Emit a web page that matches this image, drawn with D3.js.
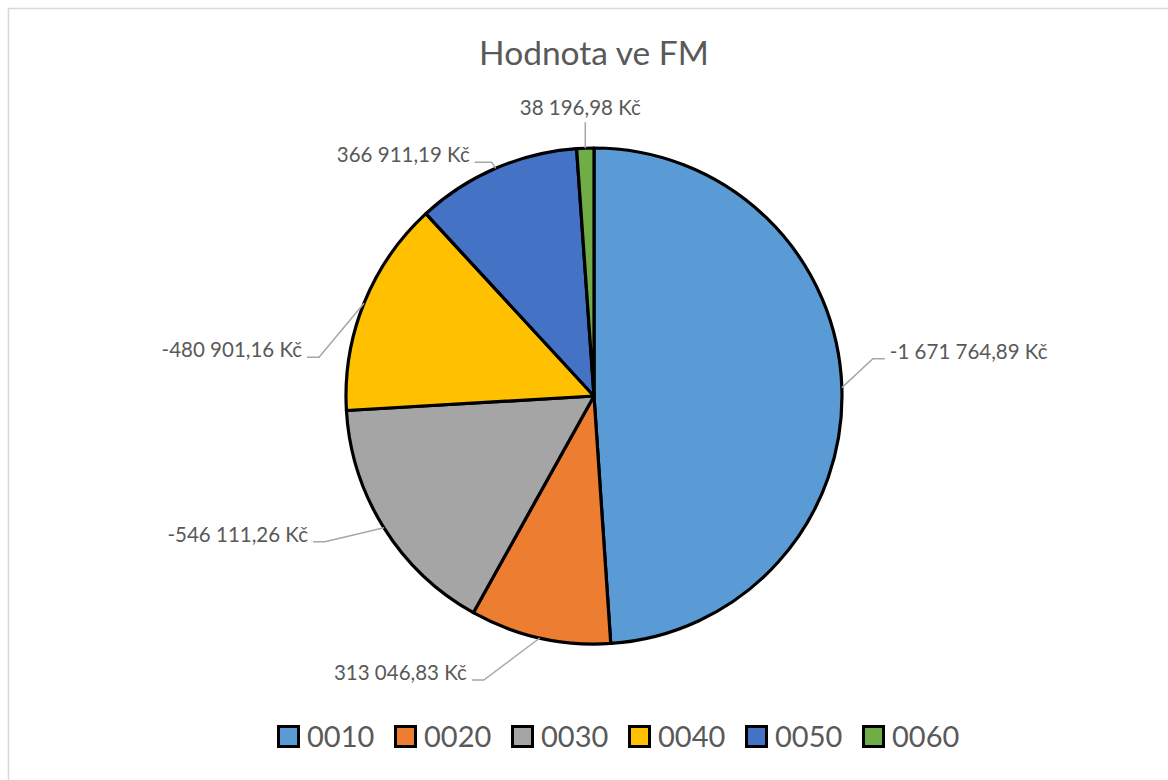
<!DOCTYPE html>
<html>
<head>
<meta charset="utf-8">
<script src="https://cdn.jsdelivr.net/npm/d3@7"></script>
<style>
  html, body { margin: 0; padding: 0; background: #fff; }
  svg { display: block; }
</style>
</head>
<body>
<svg id="chart" width="1168" height="780"></svg>
<script>
// ---- data ----
const categories = ["0010", "0020", "0030", "0040", "0050", "0060"];
const values = [-1671764.89, 313046.83, -546111.26, -480901.16, 366911.19, 38196.98];
const colors = ["#5B9BD5", "#ED7D31", "#A5A5A5", "#FFC000", "#4472C4", "#70AD47"];
const title = "Hodnota ve FM";

// ---- layout (label leader geometry relative to slice anchor) ----
const labelLayout = [
  { dx: 43, dy: -29, elbow: 12, side: "right" },
  { dx: -68, dy: 42, elbow: 12, side: "left" },
  { dx: -71, dy: 14, elbow: 12, side: "left" },
  { dx: -57, dy: 54, elbow: 12, side: "left" },
  { dx: -21, dy: -6, elbow: 17, side: "left" },
  { dx: 0, dy: -26, elbow: 0, side: "top" }
];

const svg = d3.select("#chart");
const cx = 594, cy = 396, R = 248;
const textColor = "#595959";
const font = "Lato, 'Open Sans', sans-serif";

// chart border
svg.append("rect")
  .attr("x", 8.5).attr("y", 8.5)
  .attr("width", 1200).attr("height", 800)
  .attr("fill", "#fff")
  .attr("stroke", "#d9d9d9").attr("stroke-width", 1.5);

// title
svg.append("text")
  .attr("x", cx).attr("y", 65)
  .attr("text-anchor", "middle")
  .attr("font-family", font)
  .attr("font-size", 33.5)
  .attr("fill", textColor)
  .text(title);

const data = categories.map((c, i) => ({ cat: c, value: values[i], color: colors[i], layout: labelLayout[i] }));

const pie = d3.pie().sort(null).value(d => Math.abs(d.value));
const arcs = pie(data);
const arc = d3.arc().innerRadius(0).outerRadius(R);

const g = svg.append("g").attr("transform", `translate(${cx},${cy})`);

g.selectAll("path.slice")
  .data(arcs)
  .join("path")
  .attr("class", "slice")
  .attr("d", arc)
  .attr("fill", d => d.data.color)
  .attr("stroke", "#000")
  .attr("stroke-width", 3.2)
  .attr("stroke-linejoin", "round");

const fmt = v => {
  const s = Math.abs(v).toFixed(2).split(".");
  const intPart = s[0].replace(/\B(?=(\d{3})+(?!\d))/g, " ");
  return (v < 0 ? "-" : "") + intPart + "," + s[1] + " Kč";
};

// labels with leader lines
arcs.forEach(a => {
  const mid = (a.startAngle + a.endAngle) / 2;
  const ax = Math.sin(mid) * R;
  const ay = -Math.cos(mid) * R;
  const L = a.data.layout;
  const ex = ax + L.dx, ey = ay + L.dy;
  let pts, tx, ty, anchor;
  if (L.side === "right") {
    pts = [[ax, ay], [ex - L.elbow, ey], [ex, ey]];
    tx = ex + 5; ty = ey; anchor = "start";
  } else if (L.side === "left") {
    pts = [[ax, ay], [ex + L.elbow, ey], [ex, ey]];
    tx = ex - 5; ty = ey; anchor = "end";
  } else {
    pts = [[ax, ay], [ex, ey]];
    tx = ex - 5; ty = ey - 7; anchor = "middle";
  }
  g.append("path")
    .attr("d", d3.line()(pts))
    .attr("fill", "none")
    .attr("stroke", "#a6a6a6")
    .attr("stroke-width", 1.5);
  g.append("text")
    .attr("x", tx).attr("y", ty)
    .attr("text-anchor", anchor)
    .attr("font-family", font)
    .attr("font-size", 20.5)
    .attr("fill", textColor)
    .text(fmt(a.data.value));
});

// legend
const lx = d3.scaleBand().domain(categories).range([277, 277 + 6 * 117]);
const items = svg.append("g").selectAll("g").data(data).join("g")
  .attr("transform", d => `translate(${lx(d.cat)},0)`);
items.append("rect")
  .attr("x", 1.5).attr("y", 726.5)
  .attr("width", 20).attr("height", 20)
  .attr("fill", d => d.color)
  .attr("stroke", "#000").attr("stroke-width", 3);
items.append("text")
  .attr("x", 30).attr("y", 747)
  .attr("font-family", font)
  .attr("font-size", 29)
  .attr("fill", textColor)
  .text(d => d.cat);
</script>
</body>
</html>
